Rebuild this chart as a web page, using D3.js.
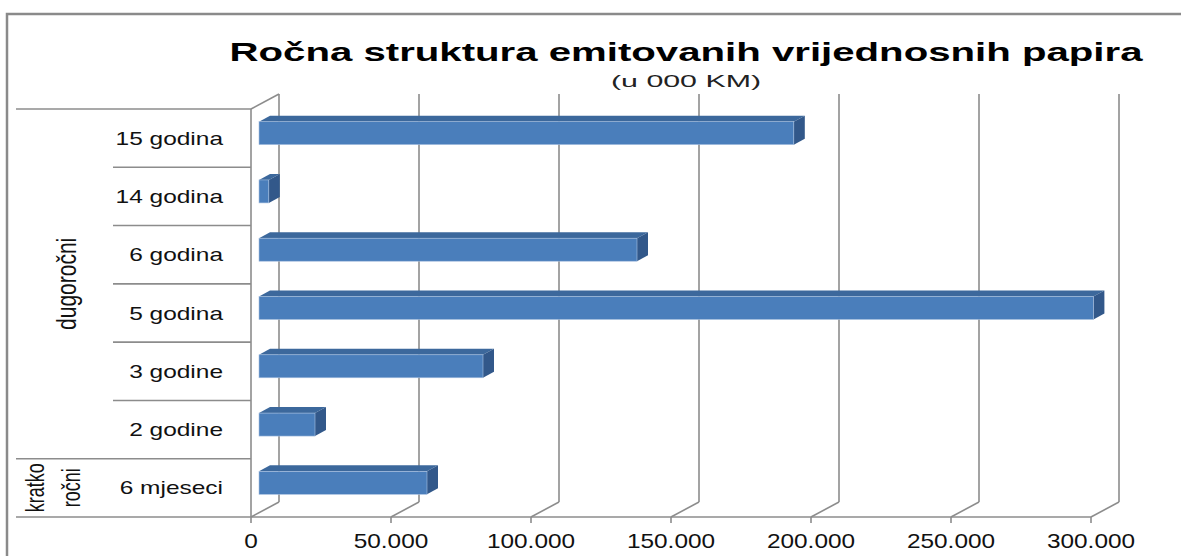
<!DOCTYPE html>
<html>
<head>
<meta charset="utf-8">
<script src="https://cdn.jsdelivr.net/npm/d3@7"></script>
<style>
  body { margin: 0; background: #fff; }
  svg { display: block; font-family: "Liberation Sans", Arial, sans-serif; }
</style>
</head>
<body>
<div id="chart"></div>
<script>
// categories top -> bottom, values in 000 KM
const categories = ["15 godina", "14 godina", "6 godina", "5 godina", "3 godine", "2 godine", "6 mjeseci"];
const values = [191000, 3500, 135000, 298000, 80000, 20000, 60000];
const groups = [
  { name: ["dugoročni"], first: "15 godina", last: "2 godine" },
  { name: ["kratko", "ročni"], first: "6 mjeseci", last: "6 mjeseci" }
];
const ticks = [0, 50000, 100000, 150000, 200000, 250000, 300000];
const title = "Ročna struktura emitovanih vrijednosnih papira";
const subtitle = "(u 000 KM)";

const width = 1181, height = 556;
const grid = "#8c8c8c";
const depth = { dx: 28, dy: -15 };      // floor / wall depth
const barDepth = { dx: 11, dy: -6 };    // bar's own depth
const barShift = { dx: 8, dy: -5 };     // bar front face offset from front plane

const svg = d3.select("#chart").append("svg")
  .attr("width", width).attr("height", height);

// outer border (cut by the picture on right and bottom)
svg.append("rect")
  .attr("x", 7).attr("y", 14).attr("width", 1200).attr("height", 600)
  .attr("fill", "none").attr("stroke", "#8a8a8a").attr("stroke-width", 2.5);

// title
svg.append("text")
  .attr("x", 686).attr("y", 61)
  .attr("text-anchor", "middle")
  .attr("font-size", "26.5px").attr("font-weight", "bold")
  .attr("textLength", 913).attr("lengthAdjust", "spacingAndGlyphs")
  .text(title);

svg.append("text")
  .attr("x", 686).attr("y", 87)
  .attr("text-anchor", "middle")
  .attr("font-size", "17px").attr("fill", "#222")
  .attr("textLength", 150).attr("lengthAdjust", "spacingAndGlyphs")
  .text(subtitle);

const x = d3.scaleLinear().domain([0, 300000]).range([251, 1091]);
const y = d3.scaleBand().domain(categories).range([109, 517]);
const y0 = y.range()[1], y1 = y.range()[0];

const lines = svg.append("g").attr("stroke", grid).attr("stroke-width", 1.6).attr("fill", "none");

// back wall gridlines, floor diagonals, tick marks
ticks.forEach(t => {
  lines.append("line")
    .attr("x1", x(t) + depth.dx).attr("x2", x(t) + depth.dx)
    .attr("y1", y0 + depth.dy).attr("y2", y1 + depth.dy);
  lines.append("line")
    .attr("x1", x(t)).attr("y1", y0)
    .attr("x2", x(t) + depth.dx).attr("y2", y0 + depth.dy);
  lines.append("line")
    .attr("x1", x(t)).attr("x2", x(t))
    .attr("y1", y0).attr("y2", y0 + 6);
});

// front baseline and left wall
lines.append("line").attr("x1", x(0)).attr("x2", x(300000)).attr("y1", y0).attr("y2", y0);
lines.append("line").attr("x1", x(0)).attr("x2", x(0)).attr("y1", y1).attr("y2", y0);
lines.append("line")
  .attr("x1", x(0)).attr("y1", y1)
  .attr("x2", x(0) + depth.dx).attr("y2", y1 + depth.dy);

// category separators on the left
const groupEdges = new Set();
groups.forEach(g => { groupEdges.add(y(g.first)); groupEdges.add(y(g.last) + y.bandwidth()); });
categories.forEach(c => {
  const yy = y(c);
  lines.append("line")
    .attr("x1", groupEdges.has(yy) ? 16 : 113).attr("x2", x(0))
    .attr("y1", yy).attr("y2", yy);
});
lines.append("line").attr("x1", 16).attr("x2", x(0)).attr("y1", y0).attr("y2", y0);

// category labels
svg.append("g").selectAll("text")
  .data(categories)
  .join("text")
  .attr("transform", d => `translate(223,${y(d) + y.bandwidth() / 2 + 6.5}) scale(1.36,1)`)
  .attr("text-anchor", "end")
  .attr("font-size", "18px").attr("fill", "#111")
  .text(d => d);

// group labels (rotated)
groups.forEach(g => {
  const cy = (y(g.first) + y(g.last) + y.bandwidth()) / 2;
  const n = g.name.length;
  g.name.forEach((line, i) => {
    const cx = n === 1 ? 68 : (i === 0 ? 36 : 72);
    svg.append("text")
      .attr("transform", `translate(${cx + 8},${cy}) scale(${n === 1 ? 1.3 : 1.45},1) rotate(-90)`)
      .attr("text-anchor", "middle")
      .attr("font-size", n === 1 ? "21px" : "18px").attr("fill", "#111")
      .text(line);
  });
});

// x tick labels
svg.append("g").selectAll("text")
  .data(ticks)
  .join("text")
  .attr("transform", d => `translate(${x(d)},548) scale(1.22,1)`)
  .attr("text-anchor", "middle")
  .attr("font-size", "20px").attr("fill", "#111")
  .text(d => d === 0 ? "0" : d3.format(",")(d).replace(/,/g, "."));

// 3D bars
const bars = svg.append("g");
categories.forEach((c, i) => {
  const v = values[i];
  const bx0 = x(0) + barShift.dx, bx1 = x(v) + barShift.dx;
  const cy = y(c) + y.bandwidth() / 2 + barShift.dy;
  const yt = cy - 11.5, yb = cy + 11.5;
  const g = bars.append("g");
  g.append("polygon")
    .attr("points", [[bx0, yt], [bx1, yt], [bx1 + barDepth.dx, yt + barDepth.dy], [bx0 + barDepth.dx, yt + barDepth.dy]].join(" "))
    .attr("fill", "#3c689c");
  g.append("polygon")
    .attr("points", [[bx1, yt], [bx1 + barDepth.dx, yt + barDepth.dy], [bx1 + barDepth.dx, yb + barDepth.dy], [bx1, yb]].join(" "))
    .attr("fill", "#32588a");
  g.append("rect")
    .attr("x", bx0).attr("y", yt)
    .attr("width", bx1 - bx0).attr("height", yb - yt)
    .attr("fill", "#4a7ebb")
    .attr("stroke", "#a9c1e0").attr("stroke-width", 0.6);
});
</script>
</body>
</html>
